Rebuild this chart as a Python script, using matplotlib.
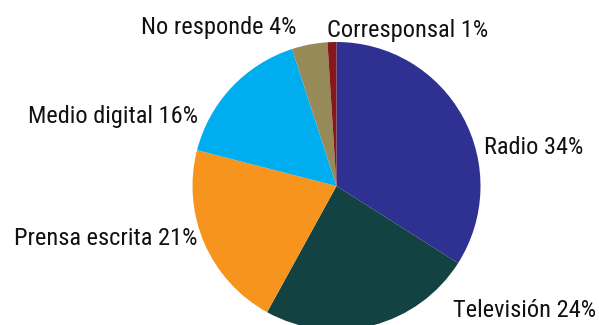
import matplotlib
matplotlib.use("Agg")
import matplotlib.pyplot as plt
from matplotlib import font_manager

categories = ["Radio", "Televisión", "Prensa escrita", "Medio digital", "No responde", "Corresponsal"]
shares = [34, 24, 21, 16, 4, 1]
colors = ["#2e3192", "#124241", "#f7941d", "#00aeef", "#968a58", "#86171a"]

available = {f.name for f in font_manager.fontManager.ttflist}
family = next((f for f in ("Roboto Condensed", "Archivo Narrow", "PT Sans Narrow", "Liberation Sans")
               if f in available), "DejaVu Sans")

W, H = 599, 325
fig = plt.figure(figsize=(W / 100, H / 100), dpi=100)
ax = fig.add_axes([0, 0, 1, 1])

cx, cy, r = 336.5, H - 186, 144
ax.pie(shares, colors=colors, startangle=90, counterclock=False,
       center=(cx, cy), radius=r, frame=True,
       wedgeprops=dict(linewidth=0))
ax.set_xlim(0, W)
ax.set_ylim(0, H)
ax.set_aspect("equal")
ax.axis("off")

# label anchor: (x, baseline y from top, horizontal alignment)
anchors = {
    "Radio": (484, 154, "left"),
    "Televisión": (596, 317, "right"),
    "Prensa escrita": (198, 245, "right"),
    "Medio digital": (198, 123, "right"),
    "No responde": (141, 34, "left"),
    "Corresponsal": (327, 37, "left"),
}
for name, val in zip(categories, shares):
    x, yb, ha = anchors[name]
    ax.text(x, H - yb, f"{name} {val}%", ha=ha, va="baseline",
            fontsize=17.6, family=family, color="#111111")

fig.savefig("out.png", dpi=100)
